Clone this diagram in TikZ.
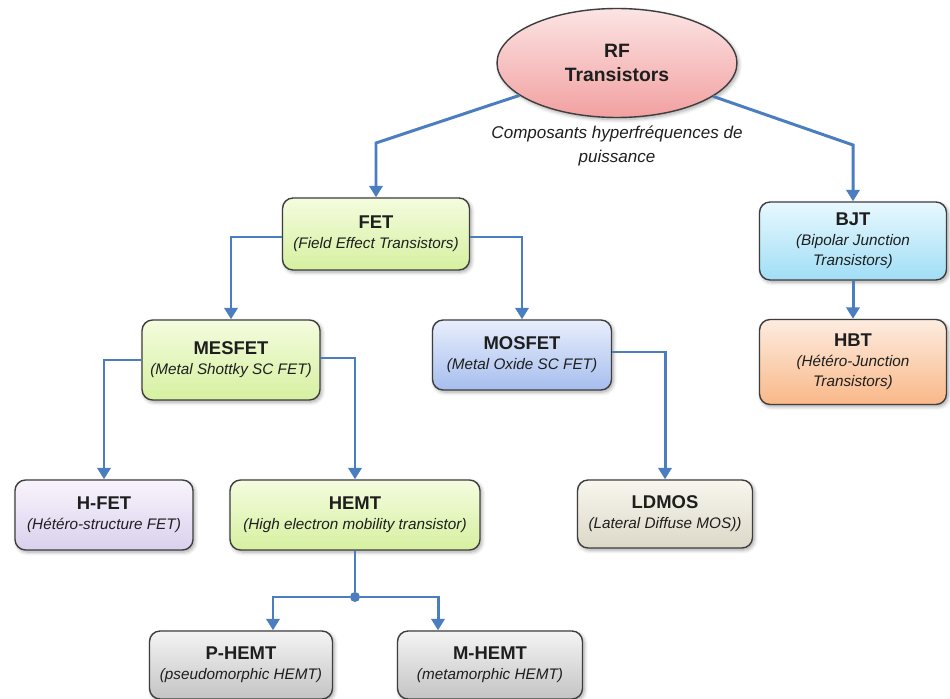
\documentclass[tikz,border=0pt]{standalone}
\usepackage{fontspec}
\setmainfont{Liberation Sans}
\usetikzlibrary{shapes, arrows.meta, shadows.blur}
\definecolor{linkblue}{RGB}{74,126,190}
\definecolor{edgegray}{RGB}{62,62,62}
\definecolor{txt}{RGB}{30,30,30}
\tikzstyle{blk}=[draw=edgegray, line width=0.8pt, rounded corners=6pt,
    align=center, inner sep=2pt, text=txt,
    font=\fontsize{8.7}{11.5}\selectfont\itshape,
    blur shadow={shadow xshift=1pt, shadow yshift=-1.2pt,
      shadow blur steps=6, shadow opacity=35}]
\tikzstyle{green}=[blk, top color={rgb,255:red,244;green,252;blue,222},
    bottom color={rgb,255:red,214;green,240;blue,160}]
\tikzstyle{cyan}=[blk, top color={rgb,255:red,232;green,248;blue,254},
    bottom color={rgb,255:red,160;green,222;blue,246}]
\tikzstyle{orange}=[blk, top color={rgb,255:red,253;green,236;blue,224},
    bottom color={rgb,255:red,249;green,184;blue,136}]
\tikzstyle{bluebox}=[blk, top color={rgb,255:red,232;green,238;blue,252},
    bottom color={rgb,255:red,166;green,190;blue,238}]
\tikzstyle{lilac}=[blk, top color={rgb,255:red,248;green,244;blue,252},
    bottom color={rgb,255:red,218;green,208;blue,238}]
\tikzstyle{beige}=[blk, top color={rgb,255:red,248;green,246;blue,238},
    bottom color={rgb,255:red,220;green,216;blue,200}]
\tikzstyle{grey}=[blk, top color={rgb,255:red,244;green,244;blue,244},
    bottom color={rgb,255:red,196;green,196;blue,196}]
\tikzstyle{link}=[draw=linkblue, line width=1.7pt,
    -{Triangle[length=6.5pt,width=7.5pt]}]
\newcommand{\ttl}[1]{{\fontsize{10.5}{12}\selectfont\bfseries\upshape #1}}

\begin{document}
\begin{tikzpicture}[x=0.02cm, y=-0.02cm]
    \useasboundingbox (0,0) rectangle (950,699);
    % root
    \node (rf) at (617,63) [ellipse, draw=edgegray, line width=0.8pt,
      minimum width=4.8cm, minimum height=2.18cm, text=txt, align=center,
      top color={rgb,255:red,252;green,228;blue,228},
      bottom color={rgb,255:red,242;green,160;blue,160},
      blur shadow={shadow xshift=1pt, shadow yshift=-1.2pt,
        shadow blur steps=6, shadow opacity=35},
      font=\fontsize{11}{13.5}\selectfont\bfseries] {RF\\Transistors};
    \node (cap) at (617,146) [align=center, text=txt,
      font=\fontsize{9.7}{14}\selectfont\itshape]
      {Composants hyperfréquences de\\puissance};
    % first level
    \node (fet) at (376,234) [green, minimum width=3.74cm, minimum height=1.44cm]
      {\ttl{FET}\\(Field Effect Transistors)};
    \node (bjt) at (853,241) [cyan, minimum width=3.74cm, minimum height=1.56cm]
      {\ttl{BJT}\\(Bipolar Junction\\Transistors)};
    \node (hbt) at (853,362) [orange, minimum width=3.74cm, minimum height=1.7cm]
      {\ttl{HBT}\\(Hétéro-Junction\\Transistors)};
    % second level
    \node (mesfet) at (231,360) [green, minimum width=3.56cm, minimum height=1.6cm]
      {\ttl{MESFET}\\(Metal Shottky SC FET)};
    \node (mosfet) at (522,355) [bluebox, minimum width=3.58cm, minimum height=1.4cm]
      {\ttl{MOSFET}\\(Metal Oxide SC FET)};
    % third level
    \node (hfet) at (104,515) [lilac, minimum width=3.56cm, minimum height=1.4cm]
      {\ttl{H-FET}\\(Hétéro-structure FET)};
    \node (hemt) at (355,515) [green, minimum width=5cm, minimum height=1.4cm]
      {\ttl{HEMT}\\(High electron mobility transistor)};
    \node (ldmos) at (665,514) [beige, minimum width=3.5cm, minimum height=1.36cm]
      {\ttl{LDMOS}\\(Lateral Diffuse MOS))};
    % fourth level
    \node (phemt) at (241,665) [grey, minimum width=3.66cm, minimum height=1.36cm]
      {\ttl{P-HEMT}\\(pseudomorphic HEMT)};
    \node (mhemt) at (490,665) [grey, minimum width=3.7cm, minimum height=1.36cm]
      {\ttl{M-HEMT}\\(metamorphic HEMT)};
    \node (hj) at (355,597) [circle, fill=linkblue, inner sep=0pt, minimum size=0.2cm] {};
    \coordinate (kl) at (376,143);
    \coordinate (kr) at (853,145);

    \draw[link] (rf) -- (kl) -- (fet.north);
    \draw[link] (rf) -- (kr) -- (bjt.north);
    \draw[link] (bjt) -- (hbt);
    \draw[link] ([yshift=-0.06cm]fet.west) -| (mesfet.north);
    \draw[link] ([yshift=-0.06cm]fet.east) -| (mosfet.north);
    \draw[link] (mesfet.west) -| (hfet.north);
    \draw[link] ([yshift=0.04cm]mesfet.east) -| (hemt.north);
    \draw[link] ([yshift=0.06cm]mosfet.east) -| (ldmos.north);
    \draw[draw=linkblue, line width=1.7pt] (hemt.south) -- (hj);
    \draw[link] (hj) -| ([xshift=0.64cm]phemt.north);
    \draw[link] (hj) -| ([xshift=-1.04cm]mhemt.north);
\end{tikzpicture}
\end{document}
